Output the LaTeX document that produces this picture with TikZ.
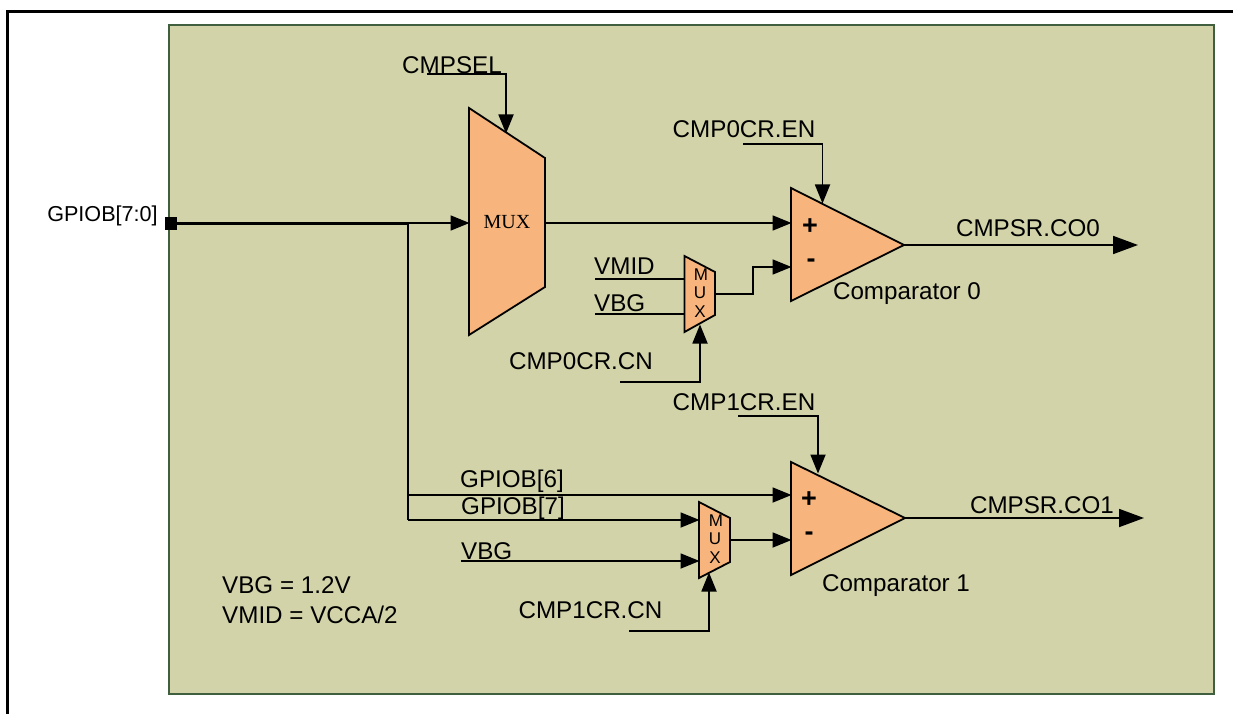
\documentclass[tikz,border=0pt]{standalone}
\usepackage{fontspec}
\setmainfont{Liberation Sans}
\newfontfamily\serifmux{Liberation Serif}
\usetikzlibrary{arrows.meta}
\definecolor{panel}{HTML}{D2D3A9}
\definecolor{panelline}{HTML}{3F5F3F}
\definecolor{block}{HTML}{F7B47C}
\tikzset{
  lab/.style={inner sep=0pt,font=\fontsize{24.2}{26}\selectfont,text=black},
  smalllab/.style={inner sep=0pt,font=\fontsize{21.6}{24}\selectfont,text=black},
  muxletter/.style={inner sep=0pt,font=\fontsize{17}{18}\selectfont,text=black},
  sign/.style={inner sep=0pt,font=\bfseries\fontsize{27}{27}\selectfont,text=black},
  blockshape/.style={draw=black,fill=block,line width=1.8pt,line join=miter},
  wire/.style={draw=black,line width=1.8pt},
  arr/.style={wire,-{Triangle[length=19pt,width=15pt]},shorten >=-0.5pt},
  bigarr/.style={wire,-{Triangle[length=25pt,width=18pt]}},
}
\begin{document}
\begin{tikzpicture}[x=1pt,y=-1pt]
\useasboundingbox (0,0) rectangle (1233,714);
% frame
\draw[black,line width=3pt] (7,716) -- (7,11.2) -- (1235,11.2);
\filldraw[fill=panel,draw=panelline,line width=1.2pt] (169,25) rectangle (1214,694);

% named connection points
\coordinate (selstart) at (427,74);
\coordinate (selbend) at (506,74);
\coordinate (selend) at (506,133);
\coordinate (muxin) at (469,223);
\coordinate (muxout) at (545,223);
\coordinate (branch) at (408,223);
\coordinate (c0plus) at (791,223);
\coordinate (c0minus) at (791,267);
\coordinate (c0out) at (904,245);
\coordinate (c0end) at (1138,245);
\coordinate (en0start) at (743,144);
\coordinate (en0bend) at (822.5,144);
\coordinate (en0end) at (822.5,203);
\coordinate (m0a) at (684.5,279);
\coordinate (m0b) at (684.5,314);
\coordinate (vmidstart) at (595,279);
\coordinate (vbg0start) at (595,314);
\coordinate (m0out) at (715,294);
\coordinate (m0kink) at (753,294);
\coordinate (m0kinkb) at (753,267);
\coordinate (cn0start) at (620,382);
\coordinate (cn0bend) at (700,382);
\coordinate (cn0end) at (700,325);
\coordinate (g6left) at (408,495);
\coordinate (c1plus) at (791,495);
\coordinate (g7left) at (408,520);
\coordinate (m1a) at (699,520);
\coordinate (vbg1start) at (461,561);
\coordinate (m1b) at (699,561);
\coordinate (m1out) at (730,540);
\coordinate (c1minus) at (791,540);
\coordinate (c1out) at (905,518);
\coordinate (c1end) at (1144,518);
\coordinate (en1start) at (738,416);
\coordinate (en1bend) at (818,416);
\coordinate (en1end) at (818,473);
\coordinate (cn1start) at (629,631);
\coordinate (cn1bend) at (709,631);
\coordinate (cn1end) at (709,573);

% shapes
\draw[blockshape] (469,108) -- (545,158) -- (545,287) -- (469,335) -- cycle;
\draw[blockshape] (791,188) -- (904,245) -- (791,301) -- cycle;
\draw[blockshape] (791,462) -- (905,518) -- (791,575) -- cycle;
\draw[blockshape] (684.5,256) -- (715,272) -- (715,315) -- (684.5,332) -- cycle;
\draw[blockshape] (699,502) -- (730,518) -- (730,562) -- (699,578) -- cycle;

% connectors
\draw[arr] (selstart) -- (selbend) -- (selend);
\draw[wire,line width=3pt] (176,223) -- (branch);
\draw[arr] (branch) -- (muxin);
\draw[arr] (muxout) -- (c0plus);
\draw[bigarr] (c0out) -- (c0end);
\draw[arr] (en0start) -- (en0bend) -- (en0end);
\draw[wire] (vmidstart) -- (m0a);
\draw[wire] (vbg0start) -- (m0b);
\draw[arr] (m0out) -- (m0kink) -- (m0kinkb) -- (c0minus);
\draw[arr] (cn0start) -- (cn0bend) -- (cn0end);
\draw[wire] (branch) -- (g7left);
\draw[arr] (g6left) -- (c1plus);
\draw[arr] (g7left) -- (m1a);
\draw[arr] (vbg1start) -- (m1b);
\draw[arr] (m1out) -- (c1minus);
\draw[bigarr] (c1out) -- (c1end);
\draw[arr] (en1start) -- (en1bend) -- (en1end);
\draw[arr] (cn1start) -- (cn1bend) -- (cn1end);

% terminal
\fill[black] (165,217) rectangle (177,230);

% labels
\node[smalllab,anchor=center] (gpio) at (102.5,216) {GPIOB[7:0]};
\node[lab] (cmpsel) at (452,65) {CMPSEL};
\node[inner sep=0pt,font=\serifmux\fontsize{20}{22}\selectfont] (muxbig) at (507,222) {MUX};
\node[lab] (en0) at (744,129) {CMP0CR.EN};
\node[lab] (co0) at (1028,228) {CMPSR.CO0};
\node[sign] (plus0) at (810,227) {+};
\node[sign] (minus0) at (811,263) {-};
\node[lab] (comp0) at (907,294) {Comparator 0};
\node[lab,anchor=west] (vmid) at (594,266) {VMID};
\node[lab,anchor=west] (vbg0) at (594,303) {VBG};
\node[muxletter] (m0m) at (701,275) {M};
\node[muxletter] (m0u) at (700,293) {U};
\node[muxletter] (m0x) at (700,312) {X};
\node[lab] (cn0) at (581,361) {CMP0CR.CN};
\node[lab] (en1) at (744,402) {CMP1CR.EN};
\node[lab] (co1) at (1042,505) {CMPSR.CO1};
\node[sign] (plus1) at (809,500) {+};
\node[sign] (minus1) at (809,536) {-};
\node[lab] (comp1) at (896,586) {Comparator 1};
\node[lab,anchor=west] (g6) at (460,481) {GPIOB[6]};
\node[lab,anchor=west] (g7) at (461,508) {GPIOB[7]};
\node[lab,anchor=west] (vbg1) at (461,551) {VBG};
\node[muxletter] (m1m) at (716,521) {M};
\node[muxletter] (m1u) at (715,539) {U};
\node[muxletter] (m1x) at (715,558) {X};
\node[lab] (cn1) at (590.5,610) {CMP1CR.CN};
\node[lab,anchor=west] (vbgnote) at (222,585) {VBG = 1.2V};
\node[lab,anchor=west] (vmidnote) at (222,615) {VMID = VCCA/2};
\end{tikzpicture}
\end{document}
